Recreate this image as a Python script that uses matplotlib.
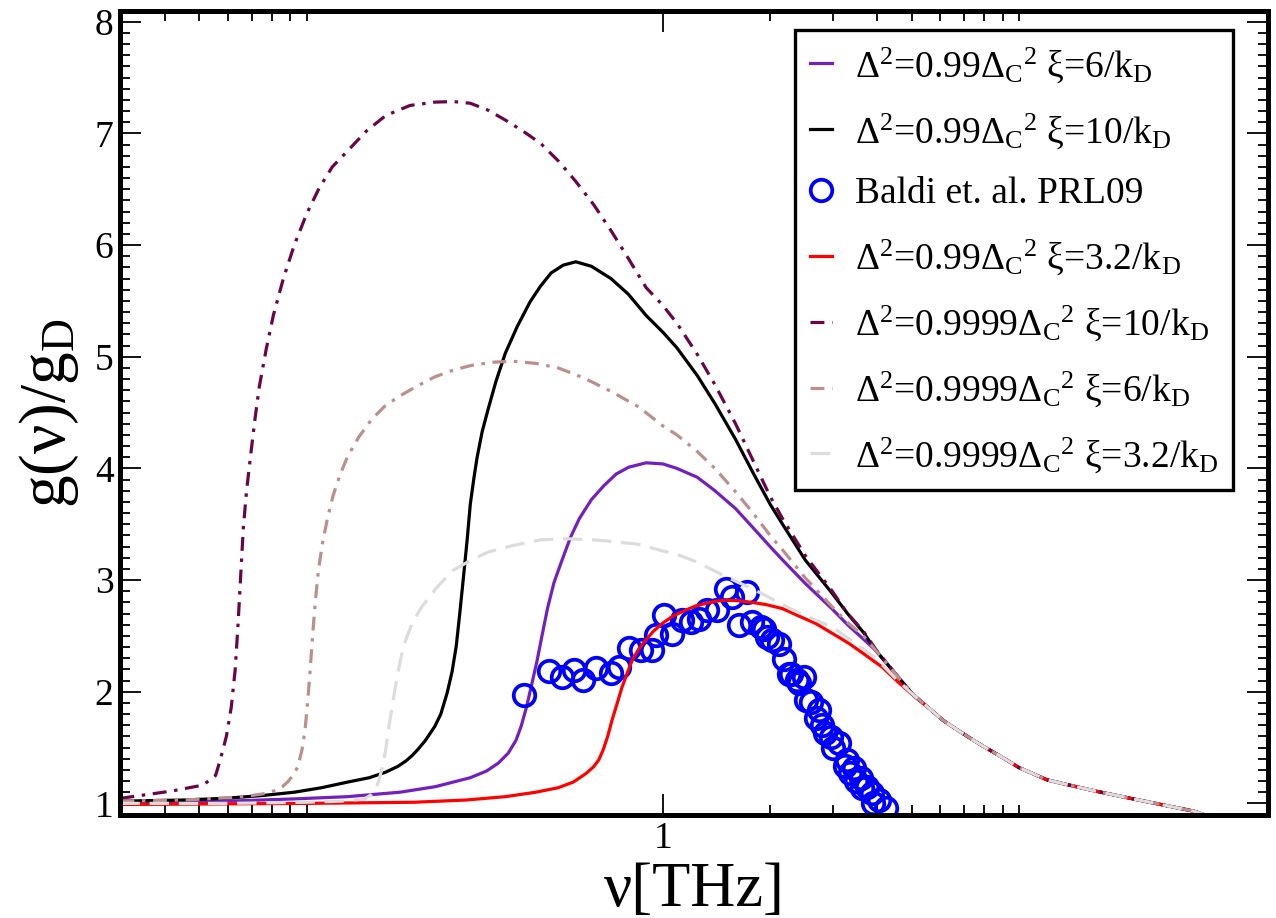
import matplotlib
matplotlib.use("Agg")
import matplotlib.pyplot as plt
from matplotlib.ticker import FixedLocator, NullFormatter, FixedFormatter

plt.rcParams['font.family'] = ['Liberation Serif', 'DejaVu Serif']
plt.rcParams['mathtext.default'] = 'regular'
plt.rcParams['lines.scale_dashes'] = False

# high-frequency tail shared by all model curves
x_tail = [5.6, 6.14, 7.0, 7.85, 9.0, 10.0, 12.0, 14.0, 16.4, 20.2, 25.0, 31.0, 33.0]
y_tail = [1.85, 1.74, 1.62, 1.52, 1.41, 1.32, 1.21, 1.16, 1.11, 1.05, 0.99, 0.93, 0.90]

# 0.99 Delta_C^2, xi = 6/kD (purple)
x_p6 = [0.03, 0.06, 0.0923, 0.13, 0.1828, 0.23, 0.288, 0.32, 0.345, 0.368, 0.387, 0.40,
        0.414, 0.428, 0.4436, 0.459, 0.4747, 0.495, 0.520, 0.55, 0.5827, 0.63, 0.683,
        0.74, 0.801, 0.897, 1.0, 1.095, 1.25, 1.40, 1.6, 1.79, 2.0, 2.168, 2.51, 2.99,
        3.3, 3.66, 3.96, 4.5, 5.02]
y_p6 = [1.0, 1.02, 1.04, 1.06, 1.10, 1.15, 1.23, 1.29, 1.36, 1.45, 1.565, 1.69,
        1.86, 2.06, 2.28, 2.52, 2.75, 2.98, 3.17, 3.38, 3.55, 3.72, 3.845,
        3.95, 4.01, 4.05, 4.04, 4.0, 3.92, 3.80, 3.64, 3.47, 3.30, 3.18, 2.97, 2.74,
        2.60, 2.47, 2.37, 2.16, 1.98]

# 0.99 Delta_C^2, xi = 10/kD (black)
x_b10 = [0.03, 0.045, 0.0587, 0.075, 0.0923, 0.11, 0.130, 0.15, 0.1667, 0.18, 0.190,
         0.198, 0.2048, 0.215, 0.229, 0.238, 0.248, 0.256, 0.263, 0.269, 0.275, 0.282,
         0.288, 0.295, 0.301, 0.311, 0.3225, 0.34, 0.361, 0.39, 0.4236, 0.453, 0.4855,
         0.525, 0.5695, 0.63, 0.715, 0.80, 0.897, 1.0, 1.095, 1.25, 1.40, 1.6, 1.792,
         2.0, 2.168, 2.51, 2.99, 3.3, 3.66, 3.96, 4.5, 5.02]
y_b10 = [1.02, 1.03, 1.045, 1.07, 1.10, 1.14, 1.19, 1.23, 1.28, 1.33, 1.38,
         1.43, 1.48, 1.56, 1.69, 1.80, 1.99, 2.18, 2.41, 2.70, 3.0, 3.35,
         3.68, 3.92, 4.10, 4.33, 4.52, 4.78, 5.03, 5.27, 5.49, 5.63, 5.75,
         5.82, 5.85, 5.81, 5.70, 5.56, 5.37, 5.22, 5.08, 4.83, 4.58, 4.26, 3.96,
         3.68, 3.50, 3.18, 2.88, 2.70, 2.53, 2.37, 2.16, 1.98]

# Baldi et al. PRL 2009 (blue circles)
x_exp = [0.4088, 0.4784, 0.5215, 0.5623, 0.5973, 0.6498, 0.7129, 0.7521, 0.8027, 0.8656,
         0.9293, 0.9537, 1.0065, 1.062, 1.133, 1.196, 1.262, 1.332, 1.421, 1.50, 1.566,
         1.635, 1.725, 1.782, 1.881, 1.929, 1.964, 2.026, 2.118, 2.187, 2.259, 2.293,
         2.384, 2.409, 2.489, 2.53, 2.599, 2.69, 2.743, 2.79, 2.86, 2.958, 3.0, 3.122,
         3.24, 3.294, 3.36, 3.44, 3.49, 3.592, 3.62, 3.749, 3.872, 3.89, 4.045, 4.224]
y_exp = [1.969, 2.183, 2.133, 2.192, 2.103, 2.216, 2.172, 2.222, 2.395, 2.371,
         2.371, 2.505, 2.684, 2.52, 2.64, 2.624, 2.655, 2.729, 2.729, 2.923, 2.848,
         2.595, 2.893, 2.624, 2.58, 2.56, 2.49, 2.46, 2.431, 2.297, 2.163, 2.163,
         2.103, 2.08, 2.133, 1.93, 1.909, 1.765, 1.835, 1.70, 1.63, 1.596, 1.50, 1.537,
         1.335, 1.387, 1.268, 1.313, 1.20, 1.224, 1.136, 1.149, 1.089, 1.003, 1.03, 0.955]

# 0.99 Delta_C^2, xi = 3.2/kD (red)
x_r32 = [0.03, 0.1, 0.2, 0.28, 0.361, 0.44, 0.508, 0.56, 0.61, 0.64, 0.661, 0.68, 0.70,
         0.72, 0.745, 0.768, 0.795, 0.82, 0.855, 0.894, 0.94, 0.995, 1.07, 1.158, 1.24,
         1.318, 1.40, 1.50, 1.63, 1.78, 1.95, 2.168, 2.4, 2.69, 3.0, 3.34, 3.7, 4.13,
         4.6, 5.12]
y_r32 = [0.99, 1.0, 1.01, 1.03, 1.06, 1.10, 1.14, 1.19, 1.27, 1.33, 1.39, 1.48, 1.60,
         1.745, 1.90, 2.04, 2.17, 2.28, 2.38, 2.46, 2.54, 2.61, 2.68, 2.73, 2.77,
         2.79, 2.81, 2.82, 2.815, 2.80, 2.78, 2.744, 2.68, 2.61, 2.52, 2.43, 2.33, 2.22,
         2.08, 1.95]

# 0.9999 Delta_C^2, xi = 10/kD (maroon dash-dot)
x_m10 = [0.03, 0.0417, 0.0512, 0.0555, 0.0573, 0.0595, 0.0614, 0.063, 0.0642, 0.0653,
         0.0664, 0.0678, 0.0695, 0.0715, 0.0736, 0.077, 0.0806, 0.086, 0.0923, 0.10,
         0.1084, 0.118, 0.130, 0.147, 0.1667, 0.195, 0.229, 0.258, 0.288, 0.322, 0.361,
         0.405, 0.454, 0.51, 0.5695, 0.64, 0.715, 0.80, 0.897, 1.0, 1.095, 1.25, 1.40,
         1.6, 1.792, 2.0, 2.168, 2.51, 2.99, 3.3, 3.66, 3.96, 4.5, 5.02]
y_m10 = [1.045, 1.11, 1.164, 1.25, 1.40, 1.60, 1.86, 2.20, 2.62, 3.05,
         3.47, 3.80, 4.10, 4.43, 4.73, 5.07, 5.37, 5.70, 6.0, 6.28,
         6.51, 6.70, 6.84, 7.02, 7.16, 7.25, 7.28, 7.285, 7.27, 7.21, 7.12,
         7.02, 6.91, 6.75, 6.57, 6.36, 6.13, 5.88, 5.62, 5.46, 5.30, 5.02, 4.75,
         4.40, 4.07, 3.75, 3.55, 3.22, 2.90, 2.70, 2.54, 2.38, 2.16, 1.98]

# 0.9999 Delta_C^2, xi = 6/kD (rosy brown dash-dot)
x_rb6 = [0.03, 0.045, 0.06, 0.07, 0.077, 0.0824, 0.0855, 0.0883, 0.0915, 0.0945, 0.097,
         0.0989, 0.1007, 0.1023, 0.104, 0.1059, 0.108, 0.1109, 0.1145, 0.1187, 0.124,
         0.130, 0.14, 0.1523, 0.166, 0.1828, 0.205, 0.229, 0.258, 0.288, 0.33, 0.378,
         0.44, 0.508, 0.60, 0.715, 0.856, 1.0, 1.095, 1.25, 1.40, 1.6, 1.792, 2.0,
         2.168, 2.51, 2.99, 3.3, 3.66, 3.96, 4.5, 5.02]
y_rb6 = [1.02, 1.03, 1.05, 1.07, 1.09, 1.12, 1.15, 1.19, 1.25, 1.33, 1.48,
         1.65, 1.92, 2.20, 2.52, 2.83, 3.10, 3.34, 3.56, 3.76, 3.94,
         4.10, 4.28, 4.44, 4.56, 4.65, 4.74, 4.82, 4.88, 4.92, 4.95, 4.96,
         4.94, 4.90, 4.81, 4.69, 4.55, 4.38, 4.30, 4.15, 4.00, 3.79, 3.60, 3.40,
         3.27, 3.02, 2.76, 2.62, 2.50, 2.37, 2.16, 1.98]

# 0.9999 Delta_C^2, xi = 3.2/kD (light grey dashed)
x_g32 = [0.03, 0.06, 0.10, 0.125, 0.1455, 0.152, 0.156, 0.159, 0.163, 0.1667, 0.170,
         0.1744, 0.180, 0.187, 0.197, 0.2094, 0.23, 0.257, 0.29, 0.3225, 0.38, 0.454,
         0.54, 0.638, 0.75, 0.856, 1.0, 1.095, 1.25, 1.40, 1.6, 1.79, 2.0, 2.29, 2.69,
         2.99, 3.34, 3.66, 3.96, 4.5, 5.02]
y_g32 = [1.0, 1.0, 1.01, 1.02, 1.04, 1.08, 1.13, 1.19, 1.32, 1.48, 1.68,
         1.90, 2.16, 2.41, 2.60, 2.75, 2.92, 3.085, 3.18, 3.25, 3.31, 3.36,
         3.37, 3.36, 3.34, 3.32, 3.26, 3.23, 3.16, 3.08, 2.99, 2.92, 2.84, 2.74, 2.64,
         2.58, 2.47, 2.38, 2.30, 2.12, 1.98]

labels = [
    "Δ$^2$=0.99Δ$_C$$^2$ ξ=6/k$_D$",
    "Δ$^2$=0.99Δ$_C$$^2$ ξ=10/k$_D$",
    "Baldi et. al. PRL09",
    "Δ$^2$=0.99Δ$_C$$^2$ ξ=3.2/k$_D$",
    "Δ$^2$=0.9999Δ$_C$$^2$ ξ=10/k$_D$",
    "Δ$^2$=0.9999Δ$_C$$^2$ ξ=6/k$_D$",
    "Δ$^2$=0.9999Δ$_C$$^2$ ξ=3.2/k$_D$",
]

fig = plt.figure(figsize=(12.76, 9.18), dpi=100)
ax = fig.add_axes([0.0944, 0.1127, 0.8993, 0.8758])

lw = 2.3
dashdot = (0, (10, 5.5, 2.5, 5.5))
ax.plot(x_p6 + x_tail, y_p6 + y_tail, color='#7221bc', lw=lw, label=labels[0])
ax.plot(x_b10 + x_tail, y_b10 + y_tail, color='black', lw=lw, label=labels[1])
ax.plot(x_exp, y_exp, ls='none', marker='o', ms=15.5, mfc='none', mec='#0000ff',
        mew=2.7, label=labels[2])
ax.plot(x_r32 + x_tail, y_r32 + y_tail, color='#ff0000', lw=lw, label=labels[3])
ax.plot(x_m10 + x_tail, y_m10 + y_tail, color='#670748', lw=lw, ls=dashdot, label=labels[4])
ax.plot(x_rb6 + x_tail, y_rb6 + y_tail, color='#bc8f8f', lw=lw, ls=dashdot, label=labels[5])
ax.plot(x_g32 + x_tail, y_g32 + y_tail, color='#dcdcdc', lw=lw, ls=(0, (14, 7)),
        label=labels[6])

ax.set_xscale('log')
ax.set_xlim(0.03, 50)
ax.set_ylim(0.9, 8.1)

ax.xaxis.set_major_locator(FixedLocator([1]))
ax.xaxis.set_major_formatter(FixedFormatter(["1"]))
ax.xaxis.set_minor_locator(FixedLocator([0.04, 0.05, 0.06, 0.07, 0.08, 0.09, 0.1,
                                         2, 3, 4, 5, 6, 7, 8, 9, 10]))
ax.xaxis.set_minor_formatter(NullFormatter())
ax.yaxis.set_major_locator(FixedLocator([1, 2, 3, 4, 5, 6, 7, 8]))
ax.yaxis.set_minor_locator(FixedLocator([1 + 0.1 * i for i in range(71) if i % 10]))

ax.tick_params(which='both', direction='in', top=True, right=True, width=1.3)
ax.tick_params(which='major', length=15, labelsize=27, pad=5)
ax.tick_params(which='minor', length=7)
for s in ax.spines.values():
    s.set_linewidth(3.6)

ax.set_xlabel("ν[THz]", fontsize=45, labelpad=4)
ax.set_ylabel("g(ν)/g$_D$", fontsize=47, labelpad=10)

leg = ax.legend(loc='upper right', bbox_to_anchor=(1233 / 1276, 1 - 30 / 918),
                bbox_transform=fig.transFigure, borderaxespad=0, fancybox=False,
                edgecolor='black', framealpha=1, fontsize=27, handlelength=0.6,
                handletextpad=0.6, labelspacing=0.7, borderpad=0.4, numpoints=1)
leg.get_frame().set_linewidth(2.4)

fig.savefig("out.png", dpi=100)
